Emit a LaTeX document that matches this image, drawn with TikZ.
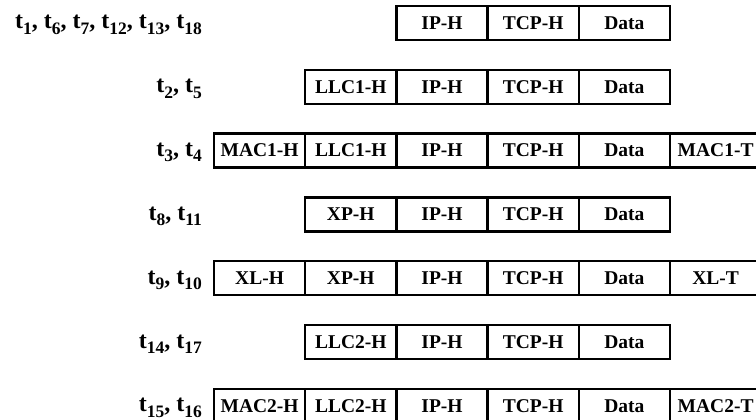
\documentclass[tikz,border=0pt]{standalone}
\usepackage{fontspec}
\setmainfont{Liberation Serif}
\newcommand{\tsb}[1]{t\raisebox{-0.22em}{\fontsize{17.5}{18}\selectfont #1}}
\begin{document}
\begin{tikzpicture}[x=1pt,y=-1pt,
  cell/.style={draw, line width=2.5pt, minimum width=91.2pt, minimum height=34pt,
    inner sep=0pt, font=\fontsize{19.5}{20}\selectfont\bfseries},
  lbl/.style={anchor=base east, inner sep=0pt, font=\fontsize{24}{25}\selectfont\bfseries}]
\useasboundingbox (0,0) rectangle (756,420);
\clip (0,0) rectangle (756,420);
% column centres
\def\cA{259.6}\def\cB{350.8}\def\cC{442}\def\cD{533.2}\def\cE{624.4}\def\cF{715.6}
% row 1
\node[lbl] (l1) at (202,29) {\tsb{1}, \tsb{6}, \tsb{7}, \tsb{12}, \tsb{13}, \tsb{18}};
\node[cell] (r1ip) at (\cC,23) {IP-H};
\node[cell] (r1tcp) at (\cD,23) {TCP-H};
\node[cell] (r1d) at (\cE,23) {Data};
% row 2
\node[lbl] (l2) at (202,92.8) {\tsb{2}, \tsb{5}};
\node[cell] (r2llc) at (\cB,86.8) {LLC1-H};
\node[cell] (r2ip) at (\cC,86.8) {IP-H};
\node[cell] (r2tcp) at (\cD,86.8) {TCP-H};
\node[cell] (r2d) at (\cE,86.8) {Data};
% row 3
\node[lbl] (l3) at (202,156.6) {\tsb{3}, \tsb{4}};
\node[cell] (r3mac) at (\cA,150.6) {MAC1-H};
\node[cell] (r3llc) at (\cB,150.6) {LLC1-H};
\node[cell] (r3ip) at (\cC,150.6) {IP-H};
\node[cell] (r3tcp) at (\cD,150.6) {TCP-H};
\node[cell] (r3d) at (\cE,150.6) {Data};
\node[cell] (r3t) at (\cF,150.6) {MAC1-T};
% row 4
\node[lbl] (l4) at (202,220.4) {\tsb{8}, \tsb{11}};
\node[cell] (r4xp) at (\cB,214.4) {XP-H};
\node[cell] (r4ip) at (\cC,214.4) {IP-H};
\node[cell] (r4tcp) at (\cD,214.4) {TCP-H};
\node[cell] (r4d) at (\cE,214.4) {Data};
% row 5
\node[lbl] (l5) at (202,284.2) {\tsb{9}, \tsb{10}};
\node[cell] (r5xl) at (\cA,278.2) {XL-H};
\node[cell] (r5xp) at (\cB,278.2) {XP-H};
\node[cell] (r5ip) at (\cC,278.2) {IP-H};
\node[cell] (r5tcp) at (\cD,278.2) {TCP-H};
\node[cell] (r5d) at (\cE,278.2) {Data};
\node[cell] (r5t) at (\cF,278.2) {XL-T};
% row 6
\node[lbl] (l6) at (202,348) {\tsb{14}, \tsb{17}};
\node[cell] (r6llc) at (\cB,342) {LLC2-H};
\node[cell] (r6ip) at (\cC,342) {IP-H};
\node[cell] (r6tcp) at (\cD,342) {TCP-H};
\node[cell] (r6d) at (\cE,342) {Data};
% row 7
\node[lbl] (l7) at (202,411.8) {\tsb{15}, \tsb{16}};
\node[cell] (r7mac) at (\cA,405.8) {MAC2-H};
\node[cell] (r7llc) at (\cB,405.8) {LLC2-H};
\node[cell] (r7ip) at (\cC,405.8) {IP-H};
\node[cell] (r7tcp) at (\cD,405.8) {TCP-H};
\node[cell] (r7d) at (\cE,405.8) {Data};
\node[cell] (r7t) at (\cF,405.8) {MAC2-T};
\end{tikzpicture}
\end{document}
